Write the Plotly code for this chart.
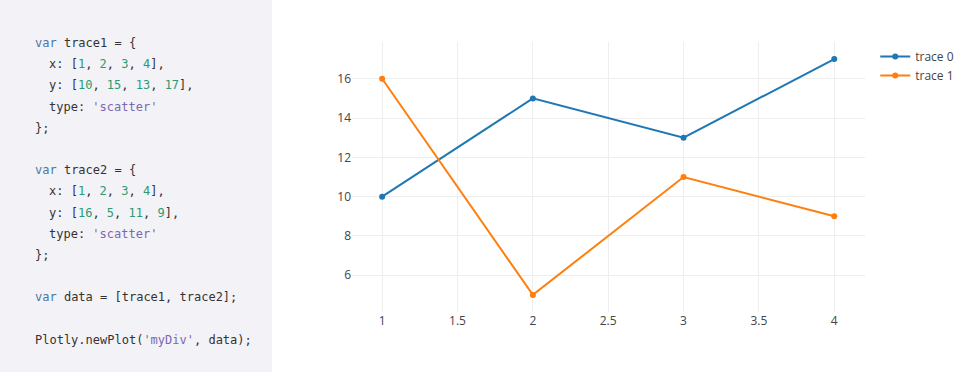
import plotly.graph_objects as go

x_vals = [1, 2, 3, 4]
trace0_y = [10, 15, 13, 17]
trace1_y = [16, 5, 11, 9]
trace_names = ["trace 0", "trace 1"]

W, H = 962, 372
L, R, T, B = 352, 97, 42, 60
PW = W - L - R
PH = H - T - B

def px(x):
    return (x - L) / PW

def py(y):
    return (H - B - y) / PH

KW = "#4a78a6"
TX = "#333333"
NUM = "#2c9a72"
STR = "#7b68b0"

def s(t, c):
    return f'<span style="color:{c}">{t}</span>'

def nums(lst):
    return s("[", TX) + s(", ", TX).join(s(str(v), NUM) for v in lst) + s("]", TX)

code_lines = [
    (0, s("var", KW) + s(" trace1 = {", TX)),
    (2, s("x: ", TX) + nums(x_vals) + s(",", TX)),
    (2, s("y: ", TX) + nums(trace0_y) + s(",", TX)),
    (2, s("type: ", TX) + s("'scatter'", STR)),
    (0, s("};", TX)),
    None,
    (0, s("var", KW) + s(" trace2 = {", TX)),
    (2, s("x: ", TX) + nums(x_vals) + s(",", TX)),
    (2, s("y: ", TX) + nums(trace1_y) + s(",", TX)),
    (2, s("type: ", TX) + s("'scatter'", STR)),
    (0, s("};", TX)),
    None,
    (0, s("var", KW) + s(" data = [trace1, trace2];", TX)),
    None,
    (0, s("Plotly.newPlot(", TX) + s("'myDiv'", STR) + s(", data);", TX)),
]

annotations = []
for i, item in enumerate(code_lines):
    if item is None:
        continue
    indent, txt = item
    annotations.append(dict(
        x=px(33 + indent * 7.2), y=py(43 + 21.2 * i), xref="paper", yref="paper",
        xanchor="left", yanchor="middle", showarrow=False, text=txt,
        font=dict(family="DejaVu Sans Mono", size=12, color=TX),
    ))

fig = go.Figure()
fig.add_trace(go.Scatter(x=x_vals, y=trace0_y, mode="lines+markers", name=trace_names[0],
                         line=dict(color="#1f77b4", width=2), marker=dict(size=6)))
fig.add_trace(go.Scatter(x=x_vals, y=trace1_y, mode="lines+markers", name=trace_names[1],
                         line=dict(color="#ff7f0e", width=2), marker=dict(size=6)))

fig.update_layout(
    template="none",
    width=W, height=H,
    margin=dict(l=L, r=R, t=T, b=B, pad=0, autoexpand=False),
    paper_bgcolor="white", plot_bgcolor="white",
    font=dict(family="Open Sans, verdana, arial, sans-serif", size=12, color="#444"),
    xaxis=dict(range=[0.8, 4.204], showgrid=True, gridcolor="#eee", zeroline=False,
               showline=False, ticks="", dtick=0.5),
    yaxis=dict(range=[4.13, 17.87], showgrid=True, gridcolor="#eee", zeroline=False,
               showline=False, ticks="", dtick=2),
    legend=dict(x=1.02, y=1, xanchor="left", yanchor="top", font=dict(size=12, color="#444")),
    shapes=[dict(type="rect", xref="paper", yref="paper", x0=px(0), x1=px(272),
                 y0=py(H), y1=py(0), fillcolor="#f3f2f7", line=dict(width=0), layer="below")],
    annotations=annotations,
)

fig.write_html("out.html")
